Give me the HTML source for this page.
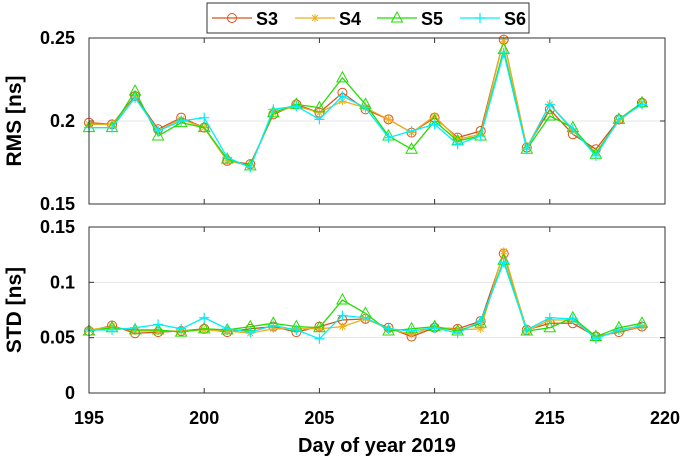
<!DOCTYPE html>
<html><head><meta charset="utf-8"><style>
body{margin:0;background:#fff;width:685px;height:464px;overflow:hidden}
svg text{font-family:"Liberation Sans",Arial,sans-serif;font-weight:bold;fill:#000}
</style></head><body>
<svg id="chart" width="685" height="464" xmlns="http://www.w3.org/2000/svg"></svg>
<script>
const days=[195,196,197,198,199,200,201,202,203,204,205,206,207,208,209,210,211,212,213,214,215,216,217,218,219];
const seriesNames=["S3","S4","S5","S6"];
const rmsS3=[.199,.198,.215,.195,.202,.196,.176,.174,.204,.210,.205,.217,.207,.201,.193,.202,.190,.194,.249,.184,.207,.192,.183,.201,.211];
const rmsS4=[.198,.198,.214,.194,.201,.196,.176,.173,.205,.209,.205,.212,.208,.201,.193,.203,.189,.192,.249,.184,.210,.194,.181,.200,.211];
const rmsS5=[.196,.196,.218,.191,.199,.196,.177,.173,.205,.210,.208,.226,.210,.191,.183,.200,.188,.191,.243,.183,.203,.196,.180,.201,.211];
const rmsS6=[.196,.196,.214,.194,.200,.202,.178,.172,.207,.209,.201,.215,.208,.190,.194,.198,.186,.191,.241,.183,.210,.195,.179,.201,.210];
const stdS3=[.056,.061,.054,.055,.056,.058,.055,.058,.060,.055,.060,.066,.067,.059,.051,.059,.058,.065,.126,.057,.063,.063,.051,.055,.060];
const stdS4=[.057,.060,.056,.056,.056,.057,.056,.054,.058,.058,.058,.060,.067,.058,.053,.060,.057,.058,.128,.056,.066,.066,.050,.056,.060];
const stdS5=[.056,.059,.057,.057,.055,.058,.057,.060,.063,.060,.059,.084,.072,.056,.058,.060,.056,.063,.120,.056,.059,.068,.051,.059,.063];
const stdS6=[.057,.057,.059,.062,.058,.068,.058,.055,.061,.057,.049,.070,.068,.058,.056,.059,.054,.065,.118,.057,.068,.067,.049,.057,.061];
const xTicks=[195,200,205,210,215,220];
const rmsTicks=[0.15,0.2,0.25];
const rmsTickLabels=["0.15","0.2","0.25"];
const stdTicks=[0,0.05,0.1,0.15];
const stdTickLabels=["0","0.05","0.1","0.15"];

const colors=["#d95319","#edb120","#22dd00","#00eeff"];
const NS="http://www.w3.org/2000/svg";
const svg=document.getElementById("chart");
function el(tag,attrs,parent){const e=document.createElementNS(NS,tag);for(const k in attrs)e.setAttribute(k,attrs[k]);(parent||svg).appendChild(e);return e;}
const X0=89,X1=665;
function xs(d){return X0+(d-195)/(220-195)*(X1-X0);}

function marker(g,type,x,y,c){
  let m;
  if(type===0){m=el("circle",{cx:x,cy:y,r:4.5,fill:"none",stroke:c,"stroke-width":1},g);}
  else if(type===1){m=el("path",{d:`M${x-4} ${y}H${x+4}M${x} ${y-4}V${y+4}M${x-3} ${y-3}L${x+3} ${y+3}M${x-3} ${y+3}L${x+3} ${y-3}`,stroke:c,"stroke-width":1,fill:"none"},g);}
  else if(type===2){m=el("path",{d:`M${x} ${y-6}L${x+5.5} ${y+4}L${x-5.5} ${y+4}Z`,stroke:c,"stroke-width":1,fill:"none"},g);}
  else {m=el("path",{d:`M${x-5} ${y}H${x+5}M${x} ${y-5}V${y+5}`,stroke:c,"stroke-width":1.2,fill:"none"},g);}
  
  
}

function panel(name,top,bot,ymin,ymax,ticks,labels,series,title,showX){
  const ys=v=>bot-(v-ymin)/(ymax-ymin)*(bot-top);
  const g=el("g",{});
  
  
  ticks.forEach((t,i)=>{
    if(t>ymin&&t<ymax){const gl=el("line",{x1:X0,x2:X1,y1:ys(t),y2:ys(t),stroke:"#e6e6e6","stroke-width":1},g);
    }
    const tl=el("text",{x:X0-14,y:ys(t)+6,"text-anchor":"end","font-size":18},g);tl.textContent=labels[i];
    
    el("line",{x1:X0,x2:X0+5,y1:ys(t),y2:ys(t),stroke:"#333"},g);
    el("line",{x1:X1,x2:X1-5,y1:ys(t),y2:ys(t),stroke:"#333"},g);
  });
  xTicks.forEach(t=>{
    el("line",{x1:xs(t),x2:xs(t),y1:bot,y2:bot-5,stroke:"#333"},g);
    el("line",{x1:xs(t),x2:xs(t),y1:top,y2:top+5,stroke:"#333"},g);
    if(showX){const tl=el("text",{x:xs(t),y:bot+31,"text-anchor":"middle","font-size":18},g);tl.textContent=t;
      }
  });
  series.forEach((s,si)=>{
    const sg=el("g",{},g);
    
    
    el("polyline",{points:s.map((v,i)=>xs(days[i])+","+ys(v)).join(" "),fill:"none",stroke:colors[si],"stroke-width":1.3},sg);
    s.forEach((v,i)=>marker(sg,si,xs(days[i]),ys(v),colors[si]));
  });
  const fr=el("rect",{x:X0,y:top,width:X1-X0,height:bot-top,fill:"none",stroke:"#333","stroke-width":1},g);
  
  const yt=el("text",{x:0,y:0,"text-anchor":"middle","font-size":21,transform:`translate(21,${(top+bot)/2}) rotate(-90)`},g);
  yt.textContent=title;
  
}
panel("rms",38,204,0.15,0.25,rmsTicks,rmsTickLabels,[rmsS3,rmsS4,rmsS5,rmsS6],"RMS [ns]",false);
panel("std",227,393,0,0.15,stdTicks,stdTickLabels,[stdS3,stdS4,stdS5,stdS6],"STD [ns]",true);

const xt=el("text",{x:(X0+X1)/2,y:452,"text-anchor":"middle","font-size":20});
xt.textContent="Day of year 2019";


const lg=el("g",{});


el("rect",{x:207,y:3,width:322,height:30,fill:"#fff",stroke:"#333"},lg);
const lx=[212,295,377,460];
seriesNames.forEach((n,i)=>{
  const eg=el("g",{},lg);
  
  
  el("line",{x1:lx[i],x2:lx[i]+40,y1:18,y2:18,stroke:colors[i],"stroke-width":1.3},eg);
  marker(eg,i,lx[i]+20,18,colors[i]);
  const t=el("text",{x:lx[i]+44,y:25,"font-size":18},eg);t.textContent=n;
});
</script>
</body></html>
